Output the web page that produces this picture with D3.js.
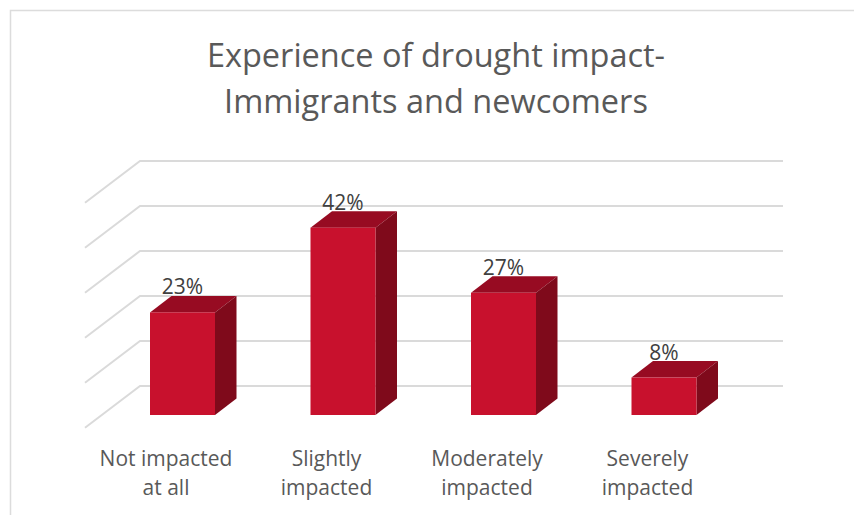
<!DOCTYPE html>
<html><head><meta charset="utf-8">
<script src="https://cdn.jsdelivr.net/npm/d3@7"></script>
<style>html,body{margin:0;padding:0;background:#fff}svg{display:block}text{font-family:"Open Sans",sans-serif}</style>
</head><body><svg id="c" width="854" height="515"></svg>
<script>
const titleLines = ["Experience of drought impact-", "Immigrants and newcomers"];
const categories = ["Not impacted at all", "Slightly impacted", "Moderately impacted", "Severely impacted"];
const categoryLines = [["Not impacted", "at all"], ["Slightly", "impacted"], ["Moderately", "impacted"], ["Severely", "impacted"]];
const values = [23, 42, 27.4, 8.4];
const gridTicks = [0, 10, 20, 30, 40, 50];

const svg = d3.select("#c");
const depthX = 21.5, depthY = -16.5;
const x = d3.scaleBand().domain(categories).range([102.25, 744.25]).paddingInner(0.595).paddingOuter(0.2975);
const yFront = d3.scaleLinear().domain([0, 50]).range([415, 192]);
const yBack = d3.scaleLinear().domain([0, 50]).range([386, 161]);

// chart frame
svg.append("path").attr("d", "M10.5,515V10.5H854").attr("fill", "none").attr("stroke", "#dcdcdc").attr("stroke-width", 1.5);

// title
svg.append("g").selectAll("text").data(titleLines).join("text")
  .attr("x", 436).attr("y", (d, i) => 66.5 + i * 46)
  .attr("text-anchor", "middle").attr("font-size", 32.5).attr("fill", "#595959").text(d => d);

// gridlines: back wall and side wall
const grid = svg.append("g").attr("fill", "none").attr("stroke", "#dadada").attr("stroke-width", 2);
grid.selectAll("path").data(gridTicks).join("path")
  .attr("d", d => `M85,${yBack(d) + 41.7}L140,${yBack(d)}H783`);

// bars
const bars = svg.append("g").selectAll("g").data(values).join("g");
const left = (d, i) => x(categories[i]);
const right = (d, i) => x(categories[i]) + x.bandwidth();
bars.append("path").attr("fill", "#970b22")
  .attr("d", (d, i) => `M${left(d, i)},${yFront(d)}l${depthX},${depthY}H${right(d, i) + depthX}l${-depthX},${-depthY}Z`);
bars.append("path").attr("fill", "#7f0a1b")
  .attr("d", (d, i) => `M${right(d, i)},${yFront(d)}l${depthX},${depthY}V${yFront(0) + depthY}l${-depthX},${-depthY}Z`);
bars.append("rect").attr("fill", "#c8112d")
  .attr("x", left).attr("y", d => yFront(d))
  .attr("width", x.bandwidth()).attr("height", d => yFront(0) - yFront(d));

// data labels
const fmt = d3.format(".0f");
svg.append("g").selectAll("text").data(values).join("text")
  .attr("x", (d, i) => left(d, i) + x.bandwidth() / 2)
  .attr("y", d => yFront(d) - 18)
  .attr("text-anchor", "middle").attr("font-size", 21).attr("fill", "#404040")
  .text(d => fmt(d) + "%");

// category axis
const axis = svg.append("g").attr("transform", "translate(-16.5,466)")
  .call(d3.axisBottom(x).tickSize(0).tickPadding(0));
axis.select(".domain").remove();
axis.selectAll("text").each(function (d, i) {
  const t = d3.select(this).attr("y", null).attr("dy", null)
    .attr("font-size", 21).attr("fill", "#595959").style("font-family", '"Open Sans",sans-serif').text(null);
  categoryLines[i].forEach((l, j) => t.append("tspan").attr("x", 0).attr("y", j * 29).text(l));
});
</script></body></html>
